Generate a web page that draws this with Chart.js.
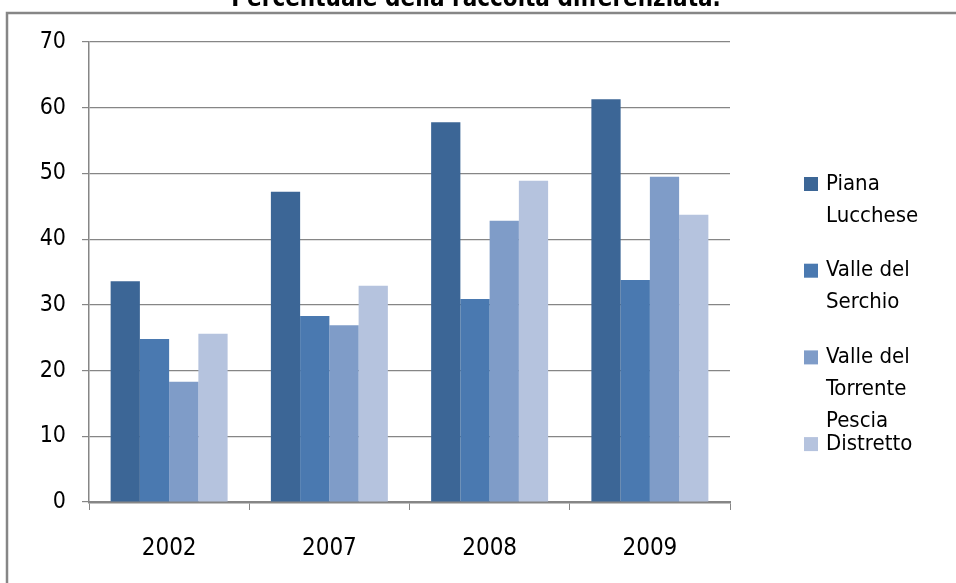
<!DOCTYPE html>
<html>
<head>
<meta charset="utf-8">
<script src="https://cdn.jsdelivr.net/npm/chart.js@4/dist/chart.umd.min.js"></script>
<style>
  html, body { margin: 0; padding: 0; background: #fff; }
  #wrap { width: 956px; height: 583px; position: relative; }
</style>
</head>
<body>
<div id="wrap"><canvas id="raccoltaChart" width="956" height="583"></canvas></div>
<script>
'use strict';

var chartTitle = 'Percentuale della raccolta differenziata.';
var years = ['2002', '2007', '2008', '2009'];
var seriesNames = ['Piana Lucchese', 'Valle del Serchio', 'Valle del Torrente Pescia', 'Distretto'];
var legendLines = [['Piana', 'Lucchese'], ['Valle del', 'Serchio'], ['Valle del', 'Torrente', 'Pescia'], ['Distretto']];
var pianaLucchese = [33.6, 47.2, 57.8, 61.3];
var valleSerchio = [24.8, 28.3, 30.9, 33.8];
var valleTorrentePescia = [18.3, 26.9, 42.8, 49.5];
var distretto = [25.6, 32.9, 48.9, 43.7];
var yTicks = [0, 10, 20, 30, 40, 50, 60, 70];

var seriesColors = ['#3c6696', '#4a79b0', '#7f9cc8', '#b5c3de'];
var axisGrey = '#868686';
var condensed = '"DejaVu Sans Condensed", "Liberation Sans Narrow", "DejaVu Sans", sans-serif';

// frame, cut-off title and the wrapped legend on the right
var decorations = {
    id: 'decorations',
    beforeDraw: function (chart) {
        var ctx = chart.ctx;
        ctx.save();
        ctx.fillStyle = '#fff';
        ctx.fillRect(0, 0, chart.width, chart.height);
        ctx.strokeStyle = axisGrey;
        ctx.lineWidth = 2.5;
        ctx.beginPath();
        ctx.moveTo(7, chart.height + 2);
        ctx.lineTo(7, 13);
        ctx.lineTo(chart.width + 2, 13);
        ctx.stroke();
        ctx.restore();
    },
    afterDraw: function (chart) {
        var ctx = chart.ctx;
        ctx.save();
        ctx.fillStyle = '#000';
        ctx.font = 'bold 24px ' + condensed;
        ctx.textAlign = 'center';
        ctx.textBaseline = 'alphabetic';
        ctx.fillText(chartTitle, 476, 6, 572);

        ctx.font = '22px ' + condensed;
        ctx.textAlign = 'left';
        ctx.textBaseline = 'middle';
        chart.data.datasets.forEach(function (ds, i) {
            var y0 = 184 + 86.7 * i;
            ctx.fillStyle = ds.backgroundColor;
            ctx.fillRect(804, y0 - 7, 14, 14);
            ctx.fillStyle = '#000';
            legendLines[i].forEach(function (line, k) {
                ctx.fillText(line, 826, y0 + 32 * k);
            });
        });
        ctx.restore();
    }
};

var datasets = [pianaLucchese, valleSerchio, valleTorrentePescia, distretto].map(function (values, i) {
    return {
        label: seriesNames[i],
        data: values,
        backgroundColor: seriesColors[i],
        borderWidth: 0,
        categoryPercentage: 0.73,
        barPercentage: 1.0
    };
});

var raccoltaChart = new Chart(document.getElementById('raccoltaChart'), {
    type: 'bar',
    data: { labels: years, datasets: datasets },
    options: {
        responsive: false,
        animation: false,
        layout: { padding: { top: 42, right: 226, left: 0, bottom: 0 } },
        plugins: {
            legend: { display: false },
            title: { display: false },
            tooltip: { enabled: false }
        },
        scales: {
            x: {
                grid: { drawOnChartArea: false, drawTicks: true, tickLength: 8, color: axisGrey, lineWidth: 1 },
                border: { display: true, color: axisGrey, width: 2.5 },
                ticks: { color: '#000', font: { family: condensed, size: 24 }, padding: 24 },
                afterFit: function (scale) { scale.height = 81; }
            },
            y: {
                min: 0,
                max: 70,
                afterBuildTicks: function (scale) {
                    scale.ticks = yTicks.map(function (v) { return { value: v }; });
                },
                grid: { color: axisGrey, lineWidth: 1.2, tickLength: 7 },
                border: { display: true, color: axisGrey, width: 1.5 },
                ticks: { color: '#000', font: { family: condensed, size: 23 }, padding: 16 },
                afterFit: function (scale) { scale.width = 89; }
            }
        }
    },
    plugins: [decorations]
});
</script>
</body>
</html>
